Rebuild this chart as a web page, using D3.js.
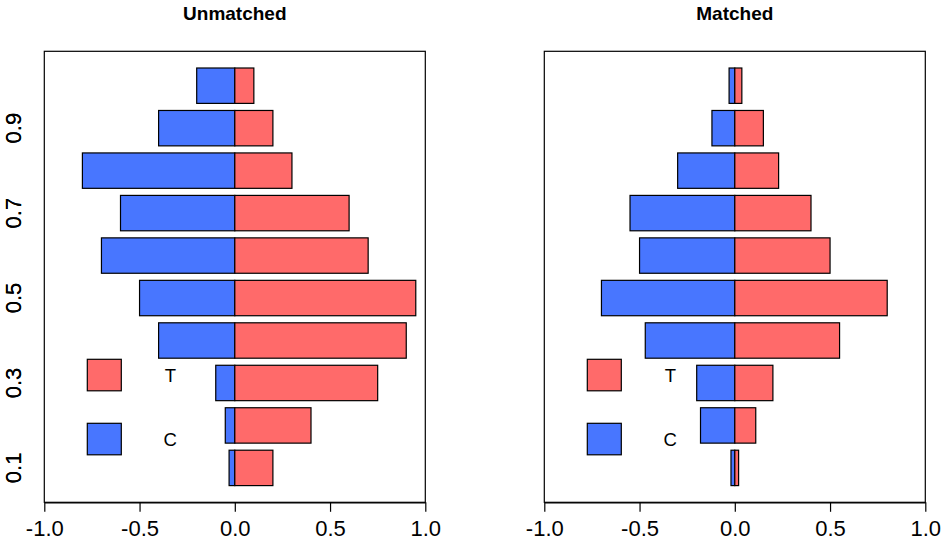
<!DOCTYPE html>
<html>
<head>
<meta charset="utf-8">
<script src="https://cdn.jsdelivr.net/npm/d3@7"></script>
<style>
  html, body { margin: 0; padding: 0; background: #fff; }
  svg { display: block; font-family: "Liberation Sans", Arial, sans-serif; }
</style>
</head>
<body>
<svg id="chart" width="950" height="543"></svg>
<script>
// ---- data ----
const categories = ["0.1","0.2","0.3","0.4","0.5","0.6","0.7","0.8","0.9","1.0"];
const yTickLabels = ["0.1","0.3","0.5","0.7","0.9"];
const xTickValues = [-1, -0.5, 0, 0.5, 1];
const xTickLabels = ["-1.0","-0.5","0.0","0.5","1.0"];
const panelTitles = ["Unmatched","Matched"];
const unmatchedControl = [0.03, 0.05, 0.10, 0.40, 0.50, 0.70, 0.60, 0.80, 0.40, 0.20];
const unmatchedTreated = [0.20, 0.40, 0.75, 0.90, 0.95, 0.70, 0.60, 0.30, 0.20, 0.10];
const matchedControl   = [0.02, 0.18, 0.20, 0.47, 0.70, 0.50, 0.55, 0.30, 0.12, 0.03];
const matchedTreated   = [0.02, 0.11, 0.20, 0.55, 0.80, 0.50, 0.40, 0.23, 0.15, 0.037];
const legendLabels = ["T","C"];
const colorTreated = "#FF6A6A";
const colorControl = "#4876FF";

const panels = [
  { title: panelTitles[0], control: unmatchedControl, treated: unmatchedTreated, left: 44.3 },
  { title: panelTitles[1], control: matchedControl,   treated: matchedTreated,   left: 544.3 }
];

const svg = d3.select("#chart");
const plotTop = 51.3, plotBottom = 502.3, plotWidth = 381;
const tickFont = "22px";

const y = d3.scaleBand()
  .domain(categories)
  .range([plotBottom, plotTop])
  .paddingInner(1/6)
  .paddingOuter(0.3933)
  .align(0.5);

panels.forEach(p => {
  const x = d3.scaleLinear().domain([-1, 1]).range([p.left, p.left + plotWidth]);
  const g = svg.append("g");

  // bars
  const rows = categories.map((c, i) => ({ cat: c, ctrl: p.control[i], trt: p.treated[i] }));
  g.selectAll("rect.ctrl").data(rows).enter().append("rect")
    .attr("class", "ctrl")
    .attr("x", d => x(-d.ctrl))
    .attr("y", d => y(d.cat))
    .attr("width", d => x(0) - x(-d.ctrl))
    .attr("height", y.bandwidth())
    .attr("fill", colorControl)
    .attr("stroke", "#000")
    .attr("stroke-width", 1.2);
  g.selectAll("rect.trt").data(rows).enter().append("rect")
    .attr("class", "trt")
    .attr("x", x(0))
    .attr("y", d => y(d.cat))
    .attr("width", d => x(d.trt) - x(0))
    .attr("height", y.bandwidth())
    .attr("fill", colorTreated)
    .attr("stroke", "#000")
    .attr("stroke-width", 1.2);

  // box
  g.append("rect")
    .attr("x", p.left).attr("y", plotTop)
    .attr("width", plotWidth).attr("height", plotBottom - plotTop)
    .attr("fill", "none").attr("stroke", "#000").attr("stroke-width", 1.2);

  // x axis
  const xa = g.append("g")
    .attr("transform", `translate(0,${plotBottom})`)
    .call(d3.axisBottom(x).tickValues(xTickValues)
      .tickFormat((d, i) => xTickLabels[i]).tickSize(9.5).tickSizeOuter(0));
  xa.select(".domain").attr("stroke", "#000").attr("stroke-width", 1.2);
  xa.selectAll(".tick line").attr("stroke", "#000").attr("stroke-width", 1.2);
  xa.selectAll(".tick text")
    .attr("y", 33.8).attr("dy", 0)
    .attr("fill", "#000")
    .style("font-size", tickFont)
    .style("font-family", "'Liberation Sans', Arial, sans-serif");

  // y axis (labels only, rotated)
  const ya = g.append("g")
    .attr("transform", `translate(${p.left},0)`)
    .call(d3.axisLeft(y).tickValues(yTickLabels).tickSize(0));
  ya.select(".domain").remove();
  ya.selectAll(".tick text")
    .attr("x", 0).attr("dy", 0)
    .attr("text-anchor", "middle")
    .attr("transform", `translate(${20.5 - p.left},0) rotate(-90)`)
    .attr("fill", "#000")
    .style("font-size", tickFont)
    .style("font-family", "'Liberation Sans', Arial, sans-serif");

  // title
  g.append("text")
    .attr("x", p.left + plotWidth / 2)
    .attr("y", 20)
    .attr("text-anchor", "middle")
    .style("font-size", "19px")
    .style("font-weight", "bold")
    .text(p.title);

  // legend
  const legendColors = [colorTreated, colorControl];
  const legendTops = [359.3, 423.3];
  legendLabels.forEach((lab, i) => {
    g.append("rect")
      .attr("x", p.left + 43).attr("y", legendTops[i])
      .attr("width", 34).attr("height", 31.5)
      .attr("fill", legendColors[i]).attr("stroke", "#000").attr("stroke-width", 1.2);
    g.append("text")
      .attr("x", p.left + 126)
      .attr("y", legendTops[i] + 16 + 6.7)
      .attr("text-anchor", "middle")
      .style("font-size", "18.5px")
      .text(lab);
  });
});
</script>
</body>
</html>
